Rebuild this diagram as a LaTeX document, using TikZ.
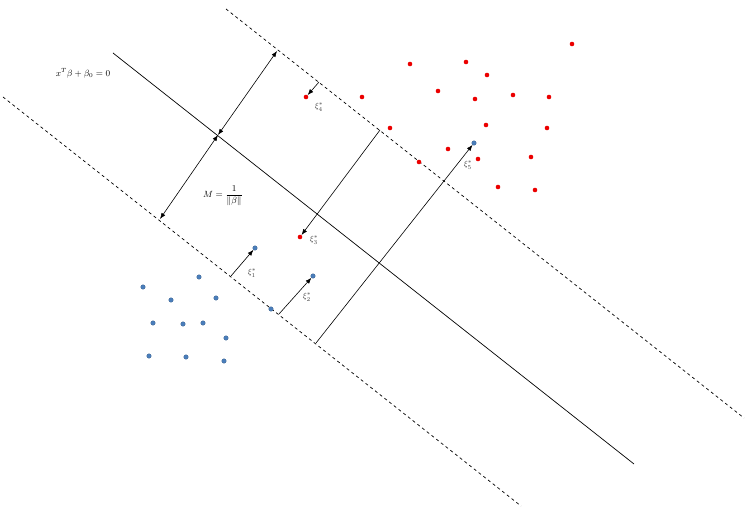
\documentclass[tikz,border=0pt]{standalone}
\usepackage{amsmath}
\usetikzlibrary{arrows.meta}
\definecolor{ptblue}{RGB}{74,126,187}
\definecolor{ptred}{RGB}{235,0,0}
\begin{document}
\begin{tikzpicture}[x=1pt,y=-1pt,
 redpt/.style={circle,fill=ptred,inner sep=0pt,minimum size=4.6pt},
 bluept/.style={circle,fill=ptblue,draw=ptblue!70!black,line width=0.2pt,inner sep=0pt,minimum size=4.6pt},
 arr/.style={-{Latex[length=6pt,width=4.5pt]},line width=0.6pt},
 darr/.style={{Latex[length=6pt,width=4.5pt]}-{Latex[length=6pt,width=4.5pt]},line width=0.6pt},
 hyper/.style={line width=0.7pt},
 marg/.style={dash pattern=on 3pt off 3pt,line width=0.7pt},
 xilab/.style={font=\footnotesize,text=black!75}]
\useasboundingbox (0,0) rectangle (745,508);
% lines
\coordinate (h1) at (113,53);
\coordinate (h2) at (634,464);
\coordinate (u1) at (226,9);
\coordinate (u2) at (744,418);
\coordinate (l1) at (3,97);
\coordinate (l2) at (521,506);
\draw[hyper] (h1) -- (h2);
\draw[marg] (u1) -- (u2);
\draw[marg] (l1) -- (l2);
% red points
\foreach \n/\x/\y in {r1/572/44,r2/410/64,r3/466/62,r4/487/75,r5/438/91,r6/475/99,r7/513/95,r8/549/97,r9/362/97,r10/390/128,r11/486/125,r12/547/128,r13/448/149,r14/478/159,r15/531/157,r16/419/162,r17/498/187,r18/535/190}
  \node[redpt] (\n) at (\x,\y) {};
\node[redpt] (x4) at (306,97) {};
\node[redpt] (x3) at (300,237) {};
% blue points
\foreach \n/\x/\y in {b1/143/287,b2/199/277,b3/171/300,b4/216/298,b5/153/323,b6/183/324,b7/203/323,b8/226/338,b9/149/356,b10/186/357,b11/224/361,b12/271/309}
  \node[bluept] (\n) at (\x,\y) {};
\node[bluept] (x1) at (255,248) {};
\node[bluept] (x2) at (313,276) {};
\node[bluept] (x5) at (474,143) {};
% margin arrows
\coordinate (mh) at (218,135);
\coordinate (mu) at (277,51);
\coordinate (ml) at (160,219);
\draw[darr] (mh) -- (mu);
\draw[darr] (ml) -- (mh);
% slack arrows
\coordinate (s4) at (319,82);
\coordinate (s3) at (380,130);
\coordinate (s1) at (231,276);
\coordinate (s2) at (279,314);
\coordinate (s5) at (316,343);
\draw[arr] (s4) -- (x4);
\draw[arr] (s3) -- (x3);
\draw[arr] (s1) -- (x1);
\draw[arr] (s2) -- (x2);
\draw[arr] (s5) -- (x5);
% labels
\node (eq) at (83,73) {\small$x^T\beta+\beta_0=0$};
\node (M) at (223,196) {\small$M=\dfrac{1}{\|\beta\|}$};
\node[xilab] (l4) at (319,107) {$\xi_4^{*}$};
\node[xilab] (l3) at (314,240) {$\xi_3^{*}$};
\node[xilab] (l1) at (252,273) {$\xi_1^{*}$};
\node[xilab] (l2) at (307,297) {$\xi_2^{*}$};
\node[xilab] (l5) at (468,165) {$\xi_5^{*}$};
\end{tikzpicture}
\end{document}
